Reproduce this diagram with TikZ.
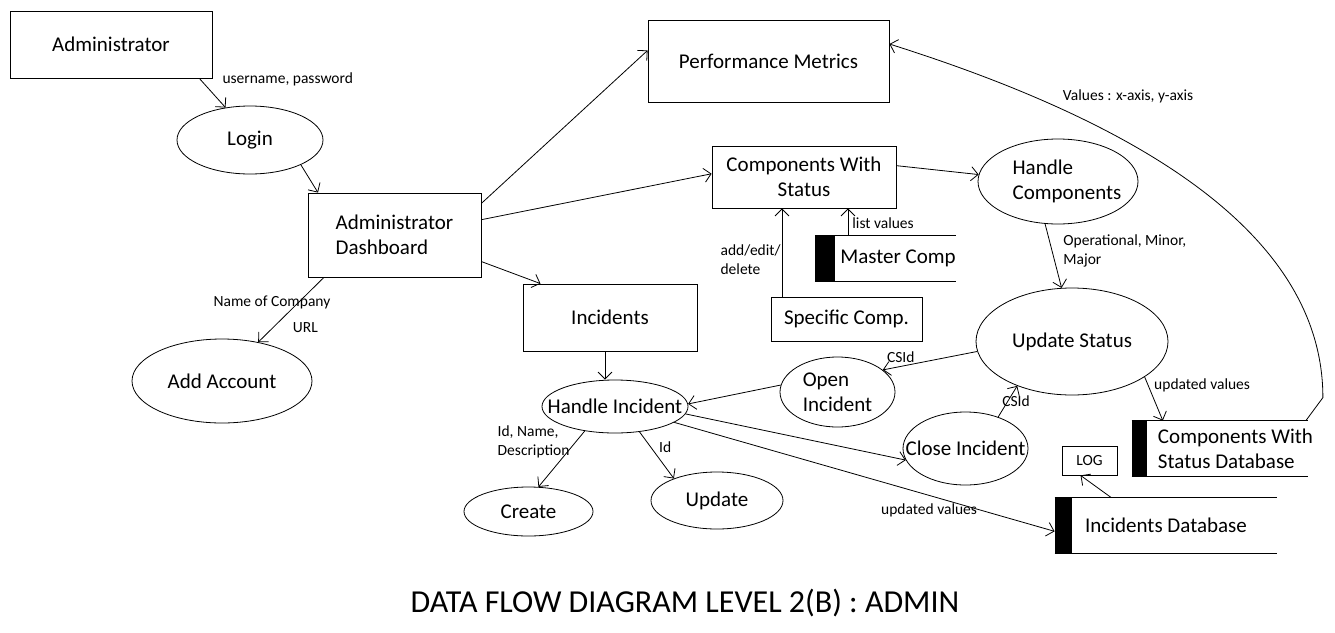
\documentclass[tikz,border=0pt]{standalone}
\usepackage{fontspec}
\setmainfont{Carlito}
\usetikzlibrary{shapes.geometric,arrows.meta,positioning}

\begin{document}
\begin{tikzpicture}[x=1pt,y=-1pt,% one unit per pixel, y runs down
      every node/.style={
        align=center,     % so that "\\" breaks lines
        inner sep=0pt,
        font=\fontsize{21}{25}\selectfont
      },
      ent/.style={rectangle,draw},
      proc/.style={ellipse,draw},
      store/.style={rectangle},
      lbl/.style={inner sep=1pt,font=\fontsize{15.5}{19}\selectfont},
      every edge/.style={draw,line width=0.8pt},
      >={Straight Barb[length=7pt,width=14pt]},
      line width=0.8pt
    ]
    \useasboundingbox (0,0) rectangle (1335,632);

    % entities and processes
    \node[ent,minimum width=202pt,minimum height=67pt](adm) at (111,44.5) {Administrator};
    \node[proc,minimum width=146pt,minimum height=68pt](login) at (250,140) {Login};
    \node[ent,minimum width=173pt,minimum height=84pt,align=left](dash) at (394.5,235) {Administrator\\Dashboard};
    \node[ent,minimum width=241pt,minimum height=82pt](perf) at (768.5,61) {Performance Metrics};
    \node[ent,minimum width=184pt,minimum height=62pt](cws) at (804,177) {Components With\\Status};
    \node[ent,minimum width=174pt,minimum height=67pt](inc) at (610,317.5) {Incidents};
    \node[proc,minimum width=180pt,minimum height=84pt](addacc) at (222,381) {Add Account};
    \node[proc,minimum width=160pt,minimum height=85pt,align=left,inner xsep=-10pt](hcomp) at (1058,181.5) {\hspace*{18pt}Handle\\\hspace*{18pt}Components};
    \node[proc,minimum width=192pt,minimum height=107pt](updst) at (1072,341.5) {Update Status};
    \node[ent,minimum width=151pt,minimum height=44pt](spec) at (846.5,319) {Specific Comp.};
    \node[store,minimum width=139pt,minimum height=45pt](master) at (885.5,258.5) {\hspace*{25pt}Master Comp};
    \node[proc,minimum width=115pt,minimum height=70pt,align=left](openinc) at (837.5,392) {Open\\Incident};
    \node[proc,minimum width=146pt,minimum height=53pt,inner xsep=-20pt](hinc) at (615,406.5) {Handle Incident};
    \node[proc,minimum width=129pt,minimum height=49pt](create) at (528.5,511.5) {Create};
    \node[proc,minimum width=132pt,minimum height=57pt](upd) at (717,500.5) {Update};
    \node[proc,minimum width=125pt,minimum height=73pt,inner xsep=-20pt](closeinc) at (965.5,448.5) {Close Incident};
    \node[store,minimum width=222pt,minimum height=55pt](incdb) at (1166,525.5) {Incidents Database};
    \node[ent,minimum width=55pt,minimum height=29pt,font=\fontsize{15.5}{19}\selectfont](log) at (1089.5,460.5) {LOG};
    \node[store,minimum width=176pt,minimum height=55pt,align=left,inner xsep=-6pt](cwsdb) at (1220,448.5) {\hspace*{31pt}Components With\\\hspace*{31pt}Status Database};
    \node[font=\fontsize{32}{38}\selectfont,anchor=base](title) at (685,612) {DATA FLOW DIAGRAM LEVEL 2(B) : ADMIN};

    % data stores: black bar, top and bottom lines
    \foreach \s/\w in {master/20,incdb/17,cwsdb/15}{
      \fill (\s.north west) rectangle ([xshift=\w pt]\s.south west);
      \draw (\s.north west) -- (\s.north east) (\s.south west) -- (\s.south east);
    }

    \path[->]
    (adm.-21.7) edge node[lbl,pos=0.03,anchor=west,xshift=21pt] {username, password} (login.127)
    (login.-26.6) edge (dash.151.2)
    (dash.20.7) edge (perf.175.8)
    (dash.10.4) edge (cws.178.8)
    (dash.-17.7) edge (inc.154.4)
    (dash.211.1) edge node[lbl,pos=0.38,xshift=-27pt] {Name of Company}
                      node[lbl,pos=0.77,xshift=32pt] {URL} (addacc.47.3)
    (cws.7.4) edge (hcomp.175.3)
    (hcomp.253) edge node[lbl,pos=0.42,anchor=west,xshift=10pt,align=left] {Operational, Minor,\\Major} (updst.101)
    ([xshift=-64.5pt]spec.north) edge node[lbl,pos=0.42,left,align=left] {add/edit/\\delete} ([xshift=-64.5pt]spec.north |- cws.south)
    ([xshift=-37.5pt]master.north) edge node[lbl,pos=0.45,right,xshift=3pt] {list values} ([xshift=-37.5pt]master.north |- cws.south)
    (updst.186.9) edge node[lbl,pos=0.81,above,yshift=2pt] {CSId} (openinc.26.3)
    (openinc.173) edge (hinc.2.8)
    ([xshift=-5pt]inc.south) edge ([xshift=-5pt]inc.south |- hinc.north)
    (hinc.219.6) edge node[lbl,pos=0.19,left,align=left,xshift=-5pt] {Id, Name,\\Description} (create.68.8)
    (hinc.-46.7) edge node[lbl,pos=0.33,right,xshift=7pt] {Id} (upd.153.4)
    (hinc.-6.1) edge (closeinc.191.9)
    (hinc.-15) edge node[lbl,pos=0.67,below,yshift=-7pt] {updated values} (incdb.183.9)
    (closeinc.44.1) edge node[lbl,pos=0.52,xshift=8pt] {CSId} (updst.219.4)
    (updst.-26.3) edge node[lbl,pos=0.12,right,xshift=6pt,yshift=-3pt] {updated values} (cwsdb.154.3)
    (incdb.153) edge (log.239.6)
    ;
    % values back to the metrics
    \draw[->] (cwsdb.18.3) -- ++(17,-23) .. controls +(0,-168) and (1130,120) .. (perf.8.4)
      node[lbl,pos=0.62,above=42pt,xshift=-7pt] {Values : x-axis, y-axis};
  \end{tikzpicture}
\end{document}
